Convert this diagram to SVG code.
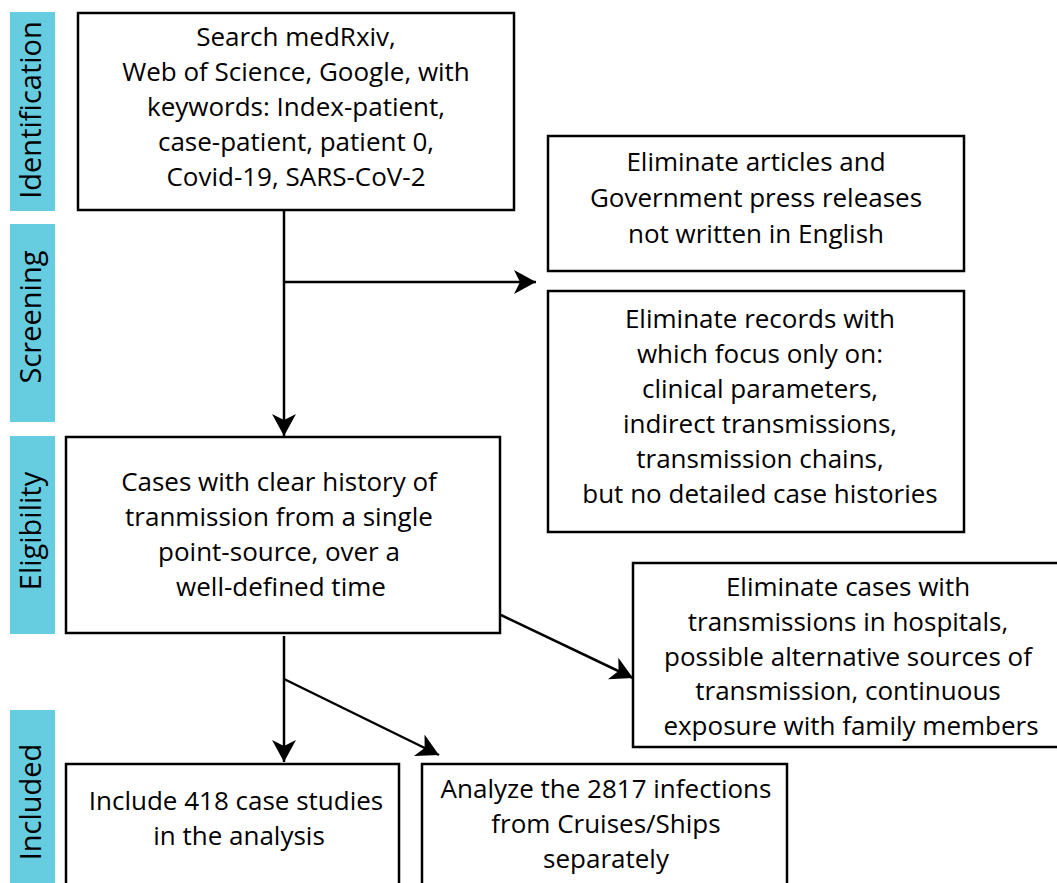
<svg xmlns="http://www.w3.org/2000/svg" width="1057" height="883" viewBox="0 0 1057 883">
<style>
.lbl{fill:#66CCE0}
.box{fill:#fff;stroke:#000;stroke-width:2.5}
.t{font-family:"Open Sans","Noto Sans","DejaVu Sans",sans-serif;font-size:26px;fill:#000;text-anchor:middle}
.s{font-family:"Open Sans","Noto Sans","DejaVu Sans",sans-serif;font-size:29px;fill:#000;text-anchor:middle}
.c{fill:none;stroke:#000;stroke-width:2.5}
</style>
<defs>
<marker id="ah" markerUnits="userSpaceOnUse" markerWidth="24" markerHeight="26" refX="22" refY="12" orient="auto">
<path d="M0,0 L22,12 L0,24 L6,12 Z" fill="#000"/>
</marker>
</defs>
<rect width="1057" height="883" fill="#fff"/>
<g id="phase-identification"><rect class="lbl" x="10" y="12" width="45" height="199"/><text class="s" transform="translate(41,110) rotate(-90)">Identification</text></g>
<g id="phase-screening"><rect class="lbl" x="10" y="224" width="45" height="198"/><text class="s" transform="translate(41,317) rotate(-90)">Screening</text></g>
<g id="phase-eligibility"><rect class="lbl" x="10" y="436" width="45" height="198"/><text class="s" transform="translate(41,531) rotate(-90)">Eligibility</text></g>
<g id="phase-included"><rect class="lbl" x="10" y="710" width="45" height="173"/><text class="s" transform="translate(41,802) rotate(-90)">Included</text></g>

<g id="connectors">
<line class="c" x1="284" y1="211" x2="284" y2="436" marker-end="url(#ah)"/>
<line class="c" x1="284" y1="282" x2="536" y2="282" marker-end="url(#ah)"/>
<line class="c" x1="501" y1="615" x2="633" y2="678" marker-end="url(#ah)"/>
<line class="c" x1="284" y1="636" x2="284" y2="762" marker-end="url(#ah)"/>
<line class="c" x1="284" y1="679" x2="439" y2="755" marker-end="url(#ah)"/>
</g>

<g id="search">
<rect class="box" x="78" y="13" width="436" height="197"/>
<text class="t" x="296" y="46">Search medRxiv,</text>
<text class="t" x="296" y="81">Web of Science, Google, with</text>
<text class="t" x="296" y="116">keywords: Index-patient,</text>
<text class="t" x="296" y="151">case-patient, patient 0,</text>
<text class="t" x="296" y="186">Covid-19, SARS-CoV-2</text>
</g>
<g id="elim-language">
<rect class="box" x="548" y="136" width="416" height="135"/>
<text class="t" x="756" y="171">Eliminate articles and</text>
<text class="t" x="756" y="207">Government press releases</text>
<text class="t" x="756" y="243">not written in English</text>
</g>
<g id="elim-focus">
<rect class="box" x="548" y="291" width="416" height="241"/>
<text class="t" x="760" y="328">Eliminate records with</text>
<text class="t" x="760" y="363">which focus only on:</text>
<text class="t" x="760" y="398">clinical parameters,</text>
<text class="t" x="760" y="433">indirect transmissions,</text>
<text class="t" x="760" y="468">transmission chains,</text>
<text class="t" x="760" y="503">but no detailed case histories</text>
</g>
<g id="eligible">
<rect class="box" x="66" y="437" width="434" height="196"/>
<text class="t" x="279" y="491">Cases with clear history of</text>
<text class="t" x="279" y="526">tranmission from a single</text>
<text class="t" x="279" y="561">point-source, over a</text>
<text class="t" x="281" y="596">well-defined time</text>
</g>
<g id="elim-cases">
<rect class="box" x="633" y="563" width="426" height="184"/>
<text class="t" x="848" y="596">Eliminate cases with</text>
<text class="t" x="848" y="631">transmissions in hospitals,</text>
<text class="t" x="848" y="666">possible alternative sources of</text>
<text class="t" x="848" y="700">transmission, continuous</text>
<text class="t" x="851" y="735">exposure with family members</text>
</g>
<g id="include">
<rect class="box" x="66" y="764" width="333" height="125"/>
<text class="t" x="236" y="810">Include 418 case studies</text>
<text class="t" x="239" y="845">in the analysis</text>
</g>
<g id="analyze">
<rect class="box" x="422" y="764" width="365" height="125"/>
<text class="t" x="606" y="798">Analyze the 2817 infections</text>
<text class="t" x="606" y="833">from Cruises/Ships</text>
<text class="t" x="606" y="868">separately</text>
</g>
</svg>
